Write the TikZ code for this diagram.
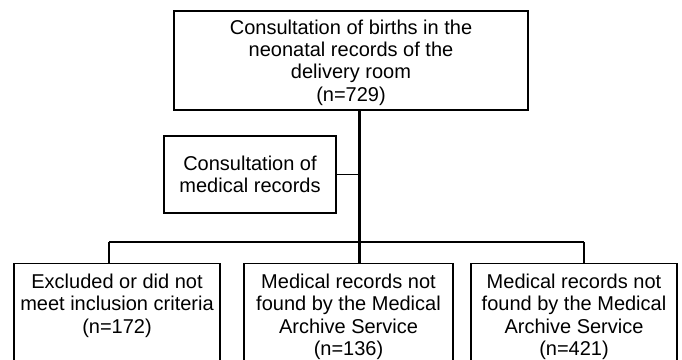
\documentclass[tikz,border=0pt]{standalone}
\usepackage{fontspec}
\setmainfont{Liberation Sans}
\begin{document}
\begin{tikzpicture}[x=1pt,y=-1pt,
  box/.style={draw=black, line width=1.6pt, fill=white, align=center, outer sep=0pt,
    font=\fontsize{20}{22.3}\selectfont},
  lowbox/.style={box, anchor=north, inner xsep=2pt, inner ysep=10.5pt, text depth=120pt},
  trunk/.style={line width=2.2pt},
  link/.style={line width=1.4pt},
  sidelink/.style={line width=1pt}]
\useasboundingbox (0,0) rectangle (682,359);
\clip (0,0) rectangle (682,359);
\coordinate (mainx) at (359.5,0);
\coordinate (barL) at (109,242);
\coordinate (barM) at (360,242);
\coordinate (barR) at (584,242);

\node[box, minimum width=354pt, minimum height=99pt, text height=85.5pt] (top) at (351,60.5)
  {Consultation of births in the\\neonatal records of the\\delivery room\\(n=729)};
\node[box, minimum width=172pt, minimum height=77pt] (side) at (250,174.5)
  {Consultation of\\medical records};

\node[lowbox, minimum width=206pt] (b1) at (117,263.5)
  {Excluded or did not\\meet inclusion criteria\\(n=172)};
\node[lowbox, minimum width=209pt] (b2) at (348.5,263.5)
  {Medical records not\\found by the Medical\\Archive Service\\(n=136)};
\node[lowbox, minimum width=206pt] (b3) at (574,263.5)
  {Medical records not\\found by the Medical\\Archive Service\\(n=421)};

\draw[sidelink] (side.east) -- (side.east -| mainx);
\draw[link] (barL) -- (barR);
\draw[link] (barL) -- (b1.north -| barL);
\draw[link] (barR) -- (b3.north -| barR);
\draw[trunk] (top.south -| mainx) -- (b2.north -| mainx);
\end{tikzpicture}
\end{document}
